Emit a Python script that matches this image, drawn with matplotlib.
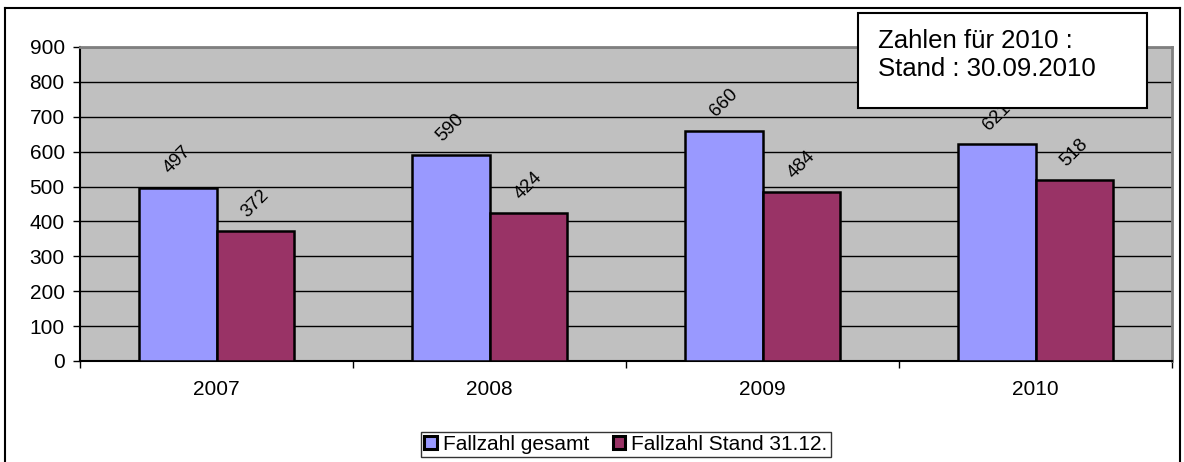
import matplotlib.pyplot as plt
import numpy as np
from matplotlib.patches import Rectangle

plt.rcParams['font.family'] = ['Liberation Sans', 'DejaVu Sans']

years = ['2007', '2008', '2009', '2010']
fallzahl_gesamt = [497, 590, 660, 621]
fallzahl_stand = [372, 424, 484, 518]
labels = ['Fallzahl gesamt', 'Fallzahl Stand 31.12.']

W, H = 1184, 462
fig = plt.figure(figsize=(W / 100, H / 100), dpi=100)

# outer frame (left, top, right)
fx0, fx1, fy = 4.5 / W, 1180 / W, 1 - 7.5 / H
fig.add_artist(plt.Line2D([fx0, fx0], [0, fy], color='black', lw=1.5))
fig.add_artist(plt.Line2D([fx0, fx1], [fy, fy], color='black', lw=1.5))
fig.add_artist(plt.Line2D([fx1, fx1], [0, fy], color='black', lw=1.5))

ax = fig.add_axes([80 / W, 1 - 361 / H, (1172 - 80) / W, (361 - 47) / H])
ax.set_facecolor('#C0C0C0')

x = np.arange(len(years))
bw = 0.2857
b1 = ax.bar(x - bw / 2, fallzahl_gesamt, bw, color='#9999FF', edgecolor='black',
            linewidth=1.8, label=labels[0], zorder=3)
b2 = ax.bar(x + bw / 2, fallzahl_stand, bw, color='#993366', edgecolor='black',
            linewidth=1.8, label=labels[1], zorder=3)

for bars, vals in ((b1, fallzahl_gesamt), (b2, fallzahl_stand)):
    for r, v in zip(bars, vals):
        ax.annotate(str(v), (r.get_x() + r.get_width() / 2, v), xytext=(0, 20),
                    textcoords='offset points', rotation=45, ha='center',
                    va='center', fontsize=13.5, zorder=4)

ax.set_xlim(-0.5, len(years) - 0.5)
ax.set_ylim(0, 900)
ax.set_yticks(range(0, 901, 100))
ax.yaxis.grid(True, color='black', linewidth=1, zorder=0)
ax.set_axisbelow(True)
ax.set_xticks(x)
ax.set_xticklabels(years)
ax.set_xticks(np.arange(-0.5, len(years), 1), minor=True)
ax.tick_params(axis='x', which='major', length=0, pad=14, labelsize=15)
ax.tick_params(axis='x', which='minor', length=5, width=1, direction='out', color='black')
ax.tick_params(axis='y', length=5, width=1, direction='out', labelsize=15, pad=6)
for s in ('top', 'right'):
    ax.spines[s].set_color('#808080')
    ax.spines[s].set_linewidth(2)
for s in ('left', 'bottom'):
    ax.spines[s].set_color('black')
    ax.spines[s].set_linewidth(1.5)

leg = fig.legend(loc='center', bbox_to_anchor=(626 / W, 1 - 444.5 / H), ncol=2,
                 frameon=True, fancybox=False, edgecolor='black', fontsize=15,
                 handlelength=0.6, handleheight=0.6, handletextpad=0.3,
                 columnspacing=1.1, borderpad=0.15, borderaxespad=0)
leg.get_frame().set_linewidth(1)
for h in leg.legend_handles:
    h.set_linewidth(2.2)

# note box
fig.add_artist(Rectangle((858 / W, 1 - 108 / H), (1147 - 858) / W, (108 - 13) / H,
                         transform=fig.transFigure, facecolor='white',
                         edgecolor='black', linewidth=1.5, zorder=10))
fig.text(878 / W, 1 - 41 / H, 'Zahlen für 2010 :', fontsize=18.5, va='center', zorder=11)
fig.text(878 / W, 1 - 69 / H, 'Stand : 30.09.2010', fontsize=18.5, va='center', zorder=11)

fig.savefig('out.png', dpi=100)
